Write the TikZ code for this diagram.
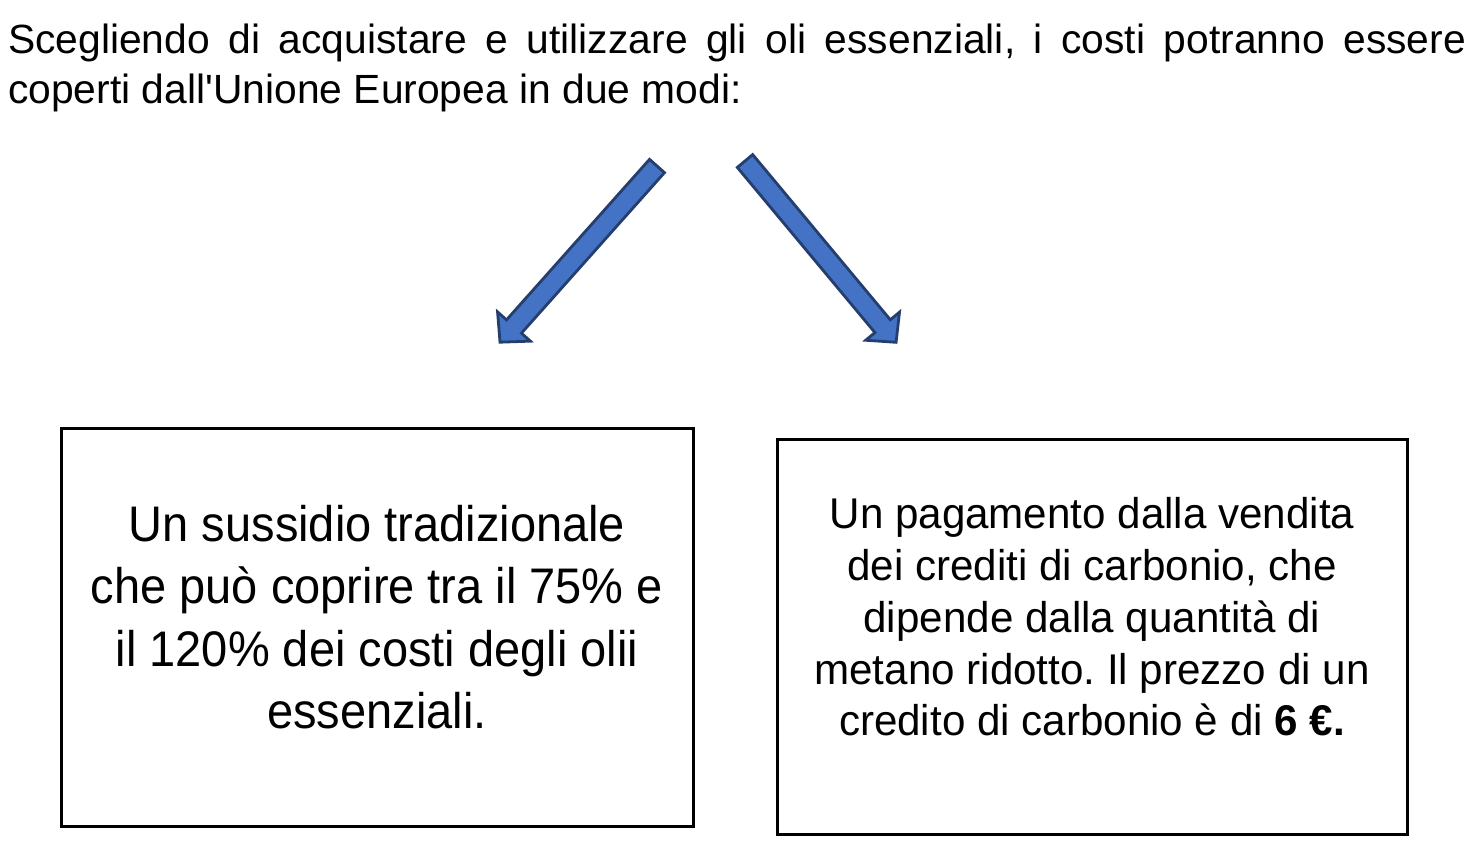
\documentclass[tikz,border=0pt]{standalone}
\usepackage{fontspec}
\setmainfont{Liberation Sans}
\newfontfamily\sussidiofont[FakeStretch=0.94]{Liberation Sans}
\newfontfamily\creditifont[FakeStretch=0.98]{Liberation Sans}
\usepackage{tikz}
\usetikzlibrary{positioning}

\definecolor{arrowfill}{HTML}{4472C4}
\definecolor{arrowline}{HTML}{243F6E}

\begin{document}
\frenchspacing
\begin{tikzpicture}[x=1pt, y=-1pt,
  every node/.style = {inner sep=0pt},
  box/.style = {draw, line width=3pt},
  bluearrow/.style = {draw=arrowline, fill=arrowfill, line width=2.8pt, line join=miter},
  headtext/.style = {text width=1458pt, align=justify, font=\fontsize{40.8}{50}\selectfont},
  lefttext/.style = {align=center, font=\sussidiofont\fontsize{50}{62.5}\selectfont},
  righttext/.style = {align=center, font=\creditifont\fontsize{43}{51.7}\selectfont}]
  \useasboundingbox (0,0) rectangle (1476,862);

  \node [headtext, anchor=north west] (intro) at (8,24)
    {Scegliendo di acquistare e utilizzare gli oli essenziali, i costi potranno essere\linebreak
     coperti dall\textquotesingle Unione Europea in due modi:};

  % the two ways
  \node [box, minimum width=632pt, minimum height=398pt] (sussidio) at (377,627) {};
  \node [box, minimum width=630pt, minimum height=395pt] (crediti) at (1092,636.5) {};

  \node [lefttext] (sussidiotxt) at (377,617)
    {Un sussidio tradizionale\\ che può coprire tra il 75\% e\\ il 120\% dei costi degli olii\\ essenziali.};
  \node [righttext] (creditistxt) at (1092,617)
    {Un pagamento dalla vendita\\ dei crediti di carbonio, che\\ dipende dalla quantità di\\
     metano ridotto. Il prezzo di un\\ credito di carbonio è di \textbf{6 €.}};

  % block arrows
  \draw [bluearrow, shift={(657,166)}, rotate=228.3]
    (0,-10) -- (215,-10) -- (215,-22) -- (236,0) -- (215,22) -- (215,10) -- (0,10) -- cycle;
  \draw [bluearrow, shift={(745,161)}, rotate=-50.2]
    (0,-10) -- (215,-10) -- (215,-22) -- (236,0) -- (215,22) -- (215,10) -- (0,10) -- cycle;
\end{tikzpicture}
\end{document}
